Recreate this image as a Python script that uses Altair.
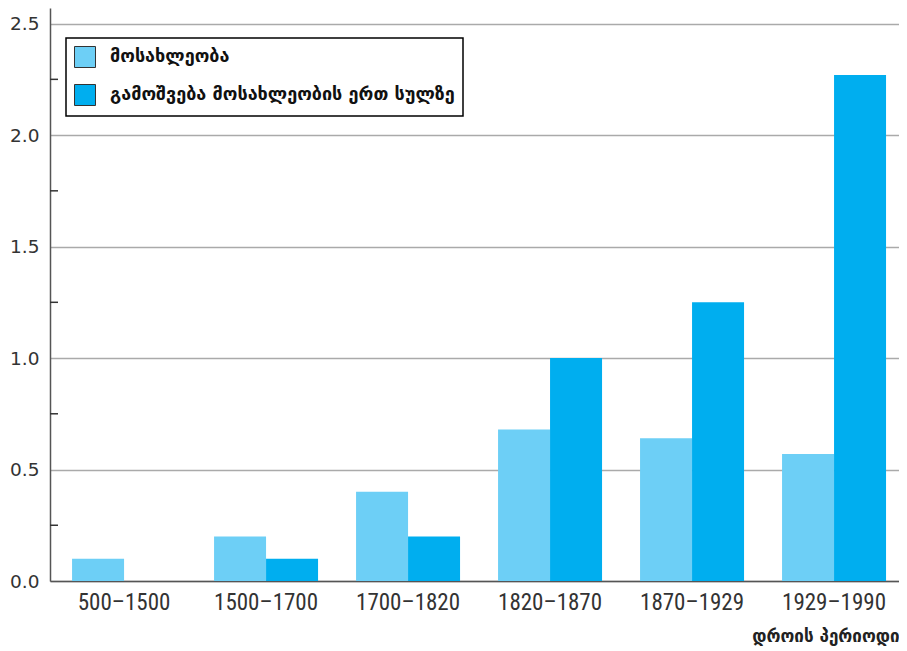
import altair as alt
import pandas as pd

periods = ["500–1500", "1500–1700", "1700–1820", "1820–1870", "1870–1929", "1929–1990"]
population = [0.10, 0.20, 0.40, 0.68, 0.64, 0.57]
output_per_capita = [None, 0.10, 0.20, 1.00, 1.25, 2.27]
series_names = ["მოსახლეობა", "გამოშვება მოსახლეობის ერთ სულზე"]
series_colors = ["#6DCFF6", "#00AEEF"]
y_ticks = [0.0, 0.5, 1.0, 1.5, 2.0, 2.5]
minor_ticks = [0.25, 0.75, 1.25, 1.75, 2.25]

rows = []
for p, a, b in zip(periods, population, output_per_capita):
    rows.append({"period": p, "series": series_names[0], "value": a})
    if b is not None:
        rows.append({"period": p, "series": series_names[1], "value": b})
df = pd.DataFrame(rows)
minor_df = pd.DataFrame({"value": minor_ticks})

y_scale = alt.Scale(domain=[0, 2.57], nice=False, zero=True)
y_axis = alt.Axis(
    title=None,
    values=y_ticks,
    format=".1f",
    ticks=False,
    domainColor="#555555",
    domainWidth=1.5,
    grid=True,
    gridColor="#aaaaaa",
    gridWidth=1.5,
    labelFont="DejaVu Sans",
    labelFontSize=18.5,
    labelColor="#333333",
    labelPadding=11,
)

bars = alt.Chart(df).mark_bar().encode(
    x=alt.X(
        "period:N",
        sort=periods,
        scale=alt.Scale(paddingInner=0.2676, paddingOuter=0.1233, align=0.63),
        axis=alt.Axis(
            title="დროის პერიოდი",
            labelAngle=0,
            ticks=False,
            domainColor="#555555",
            domainWidth=1.5,
            labelFont="Roboto Condensed, Liberation Sans",
            labelFontSize=23,
            labelColor="#333333",
            labelPadding=10,
            titleAnchor="end",
            titleFont="DejaVu Sans",
            titleFontWeight="bold",
            titleFontSize=17,
            titleColor="#222222",
            titlePadding=14,
        ),
    ),
    xOffset=alt.XOffset("series:N", sort=series_names,
                        scale=alt.Scale(domain=series_names, paddingInner=0, paddingOuter=0)),
    y=alt.Y("value:Q", scale=y_scale, axis=y_axis),
    color=alt.Color(
        "series:N",
        sort=series_names,
        scale=alt.Scale(domain=series_names, range=series_colors),
        legend=alt.Legend(
            title=None,
            orient="none",
            legendX=16,
            legendY=30,
            fillColor="white",
            strokeColor="black",
            padding=8,
            symbolType="square",
            symbolSize=441,
            symbolStrokeColor="#333333",
            symbolStrokeWidth=1,
            symbolOpacity=1,
            labelFont="DejaVu Sans",
            labelFontWeight="bold",
            labelFontSize=18,
            labelColor="#111111",
            labelOffset=14,
            rowPadding=12,
            labelLimit=500,
        ),
    ),
)

minor = alt.Chart(minor_df).mark_rule(color="#333333", strokeWidth=1.5).encode(
    y=alt.Y("value:Q", scale=y_scale, axis=y_axis),
    x=alt.value(0),
    x2=alt.value(8),
)

chart = alt.layer(bars, minor).properties(
    width=849,
    height=573,
    autosize=alt.AutoSizeParams(type="none"),
    padding={"left": 42, "top": 0, "right": 0, "bottom": 68},
).configure_view(stroke=None).configure_legend(strokeWidth=1.5)

chart.save("out.html", embed_options={"renderer": "svg", "actions": False})
